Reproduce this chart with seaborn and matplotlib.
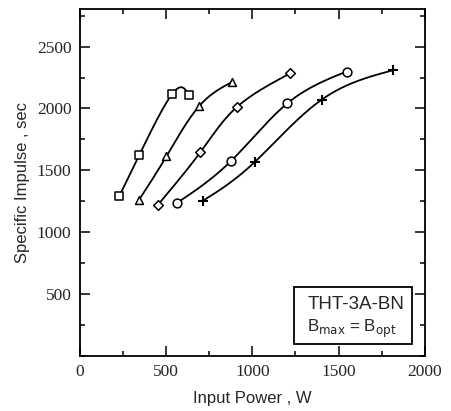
import numpy as np
import pandas as pd
import matplotlib
matplotlib.use("Agg")
import matplotlib.pyplot as plt
from matplotlib.ticker import MultipleLocator
from matplotlib.patches import Rectangle
import seaborn as sns

# Data
sq_x = [228, 344, 537, 632]
sq_y = [1289, 1621, 2120, 2107]
tri_x = [344, 502, 690, 885]
tri_y = [1263, 1613, 2016, 2215]
dia_x = [454, 698, 910, 1221]
dia_y = [1223, 1645, 2011, 2285]
cir_x = [564, 875, 1202, 1546]
cir_y = [1237, 1573, 2040, 2298]
plus_x = [715, 1014, 1401, 1816]
plus_y = [1255, 1567, 2070, 2309]

series = [("sq", sq_x, sq_y, "s"), ("tri", tri_x, tri_y, "^"),
          ("dia", dia_x, dia_y, "D"), ("cir", cir_x, cir_y, "o"),
          ("plus", plus_x, plus_y, "+")]


def _natural_coeffs(t, v):
    k = len(t)
    h = np.diff(t)
    A = np.zeros((k, k))
    b = np.zeros(k)
    A[0, 0] = A[-1, -1] = 1
    for i in range(1, k - 1):
        A[i, i - 1] = h[i - 1]
        A[i, i] = 2 * (h[i - 1] + h[i])
        A[i, i + 1] = h[i]
        b[i] = 6 * ((v[i + 1] - v[i]) / h[i] - (v[i] - v[i - 1]) / h[i - 1])
    return np.linalg.solve(A, b)


def _eval(t, v, M, tt):
    h = np.diff(t)
    out = np.empty_like(tt)
    for j, tv in enumerate(tt):
        i = int(np.clip(np.searchsorted(t, tv, side="right") - 1, 0, len(t) - 2))
        a = t[i + 1] - tv
        c = tv - t[i]
        out[j] = (M[i] * a ** 3 + M[i + 1] * c ** 3) / (6 * h[i]) \
            + (v[i] / h[i] - M[i] * h[i] / 6) * a \
            + (v[i + 1] / h[i] - M[i + 1] * h[i] / 6) * c
    return out


def smooth_curve(x, y, n=200):
    """Uniform-parameter natural spline through the points."""
    X = np.asarray(x, float)
    Y = np.asarray(y, float)
    t = np.arange(len(X), dtype=float)
    tt = np.linspace(0, t[-1], n)
    xs = _eval(t, X, _natural_coeffs(t, X), tt)
    ys = _eval(t, Y, _natural_coeffs(t, Y), tt)
    return xs, ys


sns.set_style("ticks")
plt.rcParams["font.family"] = ["Liberation Sans", "DejaVu Sans"]

fig = plt.figure(figsize=(4.51, 4.11), dpi=100)
ax = fig.add_axes([0.177, 0.134, 0.765, 0.843])

for name, xs, ys, m in series:
    sx, sy = smooth_curve(xs, ys)
    df_line = pd.DataFrame({"x": sx, "y": sy})
    sns.lineplot(data=df_line, x="x", y="y", ax=ax, color="black", lw=1.3,
                 sort=False, estimator=None)
    df_pts = pd.DataFrame({"x": xs, "y": ys})
    if m == "+":
        sns.scatterplot(data=df_pts, x="x", y="y", ax=ax, marker="+",
                        s=50, color="black", linewidth=1.5, zorder=5)
    else:
        size = {"s": 28, "^": 32, "D": 24, "o": 40}[m]
        sns.scatterplot(data=df_pts, x="x", y="y", ax=ax, marker=m, s=size,
                        facecolor="white", edgecolor="black", linewidth=1.1,
                        zorder=5)

ax.set_xlim(0, 2000)
ax.set_ylim(0, 2800)
ax.xaxis.set_major_locator(MultipleLocator(500))
ax.xaxis.set_minor_locator(MultipleLocator(250))
ax.yaxis.set_major_locator(MultipleLocator(500))
ax.yaxis.set_minor_locator(MultipleLocator(250))
ax.set_yticks([500, 1000, 1500, 2000, 2500])
ax.tick_params(which="both", direction="in", top=True, right=True,
               color="black", width=1.1)
ax.tick_params(which="major", length=7, labelsize=12.5, pad=6)
ax.tick_params(which="minor", length=3.5)
for lab in ax.get_xticklabels() + ax.get_yticklabels():
    lab.set_fontfamily("Liberation Serif")
for sp in ax.spines.values():
    sp.set_linewidth(1.3)
    sp.set_color("black")

ax.set_xlabel("Input Power , W", fontsize=12, labelpad=8)
ax.set_ylabel("Specific Impulse , sec", fontsize=12, labelpad=5)

box = Rectangle((0.62, 0.034), 0.342, 0.166, transform=ax.transAxes,
                facecolor="white", edgecolor="black", lw=1.3, zorder=6)
ax.add_patch(box)
ax.text(0.659, 0.148, "THT-3A-BN", transform=ax.transAxes, fontsize=13.5,
        va="center", ha="left", zorder=7)
ax.text(0.659, 0.078, r"B$_{\mathrm{max}}$ = B$_{\mathrm{opt}}$",
        transform=ax.transAxes, fontsize=12.2, va="center", ha="left",
        zorder=7)

fig.savefig("out.png", dpi=100)
